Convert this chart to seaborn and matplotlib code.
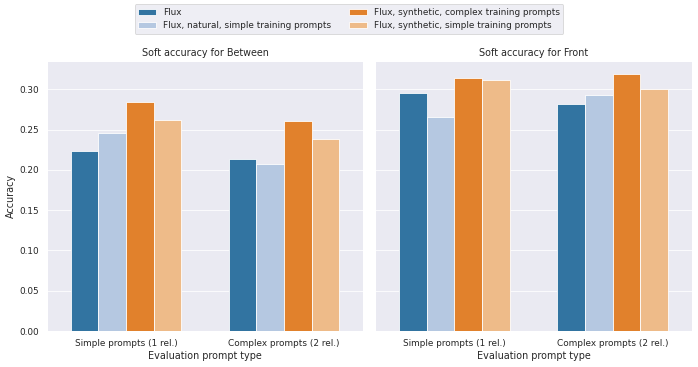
import matplotlib
matplotlib.use("Agg")
import matplotlib.pyplot as plt
import seaborn as sns
import pandas as pd
from matplotlib.patches import Patch

categories = ["Simple prompts (1 rel.)", "Complex prompts (2 rel.)"]
models = ["Flux", "Flux, natural, simple training prompts",
          "Flux, synthetic, complex training prompts",
          "Flux, synthetic, simple training prompts"]
between_vals = {
    "Flux": [0.224, 0.2136],
    "Flux, natural, simple training prompts": [0.246, 0.207],
    "Flux, synthetic, complex training prompts": [0.284, 0.2607],
    "Flux, synthetic, simple training prompts": [0.2616, 0.238],
}
front_vals = {
    "Flux": [0.2959, 0.2822],
    "Flux, natural, simple training prompts": [0.2657, 0.2934],
    "Flux, synthetic, complex training prompts": [0.314, 0.3194],
    "Flux, synthetic, simple training prompts": [0.3116, 0.3004],
}
titles = ["Soft accuracy for Between", "Soft accuracy for Front"]

def make_df(vals):
    rows = []
    for m in models:
        for c, v in zip(categories, vals[m]):
            rows.append({"cat": c, "model": m, "acc": v})
    return pd.DataFrame(rows)

sns.set_theme(style="darkgrid", context="notebook")
palette = sns.color_palette("tab20", 4)

DPI = 58
fig, axes = plt.subplots(1, 2, figsize=(698 / DPI, 367 / DPI), dpi=DPI, sharey=True)
for ax, vals, title in zip(axes, [between_vals, front_vals], titles):
    df = make_df(vals)
    sns.barplot(data=df, x="cat", y="acc", hue="model", hue_order=models,
                order=categories, palette=palette, width=0.7, ax=ax,
                legend=False)
    ax.set_title(title)
    ax.set_xlabel("Evaluation prompt type")
axes[0].set_ylabel("Accuracy")
axes[1].set_ylabel("")
axes[0].set_yticks([0.0, 0.05, 0.10, 0.15, 0.20, 0.25, 0.30])

sat = [sns.desaturate(c, 0.75) for c in palette]
handles = [Patch(facecolor=sat[i], edgecolor="white", label=m) for i, m in enumerate(models)]
fig.legend(handles=handles, loc="upper center", ncol=2)

fig.subplots_adjust(left=0.067, right=0.991, top=0.834, bottom=0.098, wspace=0.038)
fig.savefig("out.png", dpi=DPI)
